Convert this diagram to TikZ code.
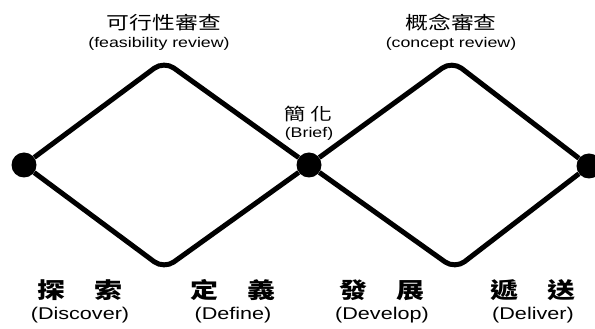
\documentclass[tikz,border=0pt]{standalone}
\usepackage{fontspec}
\setmainfont{Liberation Sans}[FakeStretch=1.27]
\newfontfamily\cjk{Noto Sans CJK TC}[FakeStretch=1.27]
\usepackage{tikz}
\usetikzlibrary{positioning}
\tikzstyle{bigdot}=[circle,fill=black,minimum size=25pt,inner sep=0pt]
\tikzstyle{phase}=[draw,line width=5pt,rounded corners=12pt]
\tikzstyle{review}=[inner sep=0pt,font=\cjk\fontsize{18}{18}\selectfont]
\tikzstyle{reviewen}=[inner sep=0pt,font=\fontsize{14}{14}\selectfont]
\tikzstyle{stage}=[inner sep=0pt,font=\cjk\bfseries\fontsize{22}{22}\selectfont]
\tikzstyle{stageen}=[inner sep=0pt,font=\fontsize{17}{17}\selectfont]

\begin{document}
\begin{tikzpicture}[x=1pt, y=1pt]
    \useasboundingbox (0,0) rectangle (595,329);

    % the three milestones
    \node[bigdot] (D0) at (24,164) {};
    \node[bigdot] (D1) at (309,164) {};
    \node[bigdot] (D2) at (589,163) {};

    % corners of the two diamonds
    \coordinate (T0) at (164,268);
    \coordinate (B0) at (164,60);
    \coordinate (T1) at (452,268);
    \coordinate (B1) at (455,60);

    \draw[phase] (D0) -- (T0) -- (D1);
    \draw[phase] (D0) -- (B0) -- (D1);
    \draw[phase] (D1) -- (T1) -- (D2);
    \draw[phase] (D1) -- (B1) -- (D2);

    % reviews
    \node[review] (R0) at (164,306) {可行性審查};
    \node[reviewen] (R0en) at (159,285) {(feasibility review)};
    \node[review] (R1) at (451,306) {概念審查};
    \node[reviewen] (R1en) at (451,285) {(concept review)};
    \node[review, font=\cjk\fontsize{17}{17}\selectfont] (Br) at (308,215) {簡\hspace{5pt}化};
    \node[reviewen] (Bren) at (309,195) {(Brief)};

    % the four stages
    \foreach \x/\a/\b/\en/\i in {80/探/索/Discover/0, 233/定/義/Define/1, 382/發/展/Develop/2, 533/遞/送/Deliver/3} {
        \node[stage] (S\i) at (\x,39) {\a\hspace{30pt}\b};
        \node[stageen] (E\i) at (\x,14) {(\en)};
    }
\end{tikzpicture}
\end{document}
